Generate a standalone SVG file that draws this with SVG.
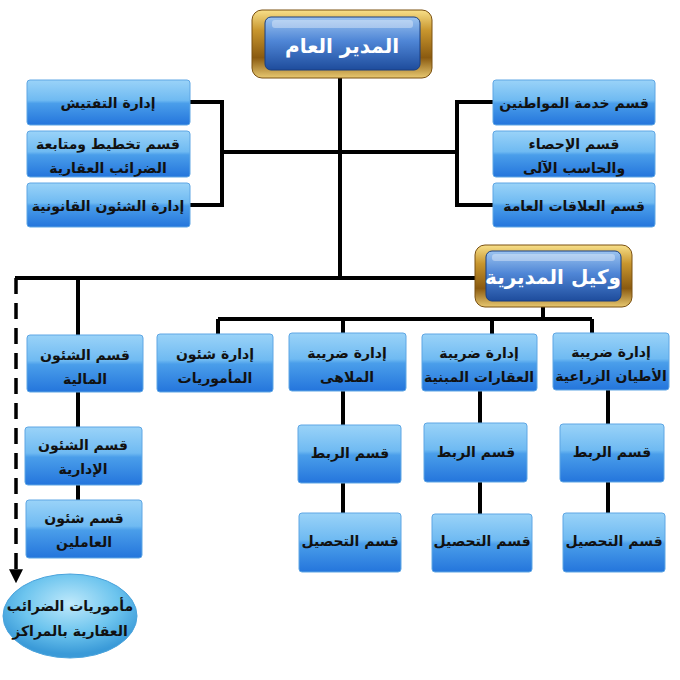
<svg xmlns="http://www.w3.org/2000/svg" width="680" height="680" viewBox="0 0 680 680">
<defs>
<linearGradient id="box" x1="0" y1="0" x2="0" y2="1">
<stop offset="0" stop-color="#9ad3f8"/>
<stop offset="0.45" stop-color="#6fbaf2"/>
<stop offset="0.52" stop-color="#4a9eea"/>
<stop offset="1" stop-color="#2475dc"/>
</linearGradient>
<linearGradient id="gold" x1="0" y1="0" x2="0" y2="1">
<stop offset="0" stop-color="#f8e08a"/>
<stop offset="0.3" stop-color="#c8962e"/>
<stop offset="0.7" stop-color="#8a5a10"/>
<stop offset="1" stop-color="#e8c870"/>
</linearGradient>
<linearGradient id="btn" x1="0" y1="0" x2="0" y2="1">
<stop offset="0" stop-color="#9cc4f0"/>
<stop offset="0.45" stop-color="#4f86d6"/>
<stop offset="1" stop-color="#1e4c9c"/>
</linearGradient>
<radialGradient id="ell" cx="0.5" cy="0.35" r="0.6">
<stop offset="0" stop-color="#bfe9fb"/>
<stop offset="0.6" stop-color="#6cc4ee"/>
<stop offset="1" stop-color="#3a9ad8"/>
</radialGradient>
<marker id="arr" viewBox="0 0 10 10" refX="2" refY="5" markerWidth="4" markerHeight="4" orient="auto" markerUnits="strokeWidth">
<path d="M0,0 L10,5 L0,10 Z" fill="#000"/>
</marker>
<style>
.b{fill:url(#box);stroke:#5ea6e4;stroke-width:1}
.t{font-family:"DejaVu Sans",sans-serif;font-weight:bold;font-size:14px;fill:#111;text-anchor:middle;direction:rtl}
.h{font-family:"DejaVu Sans",sans-serif;font-weight:bold;font-size:20px;fill:#fff;text-anchor:middle;direction:rtl}
.c{fill:none;stroke:#000;stroke-width:4}
.fr{fill:url(#gold);stroke:#7a5010;stroke-width:1}
.bt{fill:url(#btn);stroke:#1a3f80;stroke-width:1}
</style>
</defs>
<g id="connectors">
<path class="c" d="M340,78 V278"/>
<path class="c" d="M190,102 H222 V205 H190 M222,152 H340"/>
<path class="c" d="M493,102 H457 V205 H493 M457,152 H340"/>
<path class="c" d="M15,278 H476"/>
<path class="c" d="M78,278 V335 M78,392 V427 M78,485 V500"/>
<path class="c" d="M543,307 V319 M218,319 H592 M218,319 V334 M343,319 V334 M492,319 V334 M592,319 V333"/>
<path class="c" d="M343,391 V425 M343,483 V513 M480,391 V423 M480,482 V514 M608,390 V424 M608,482 V513"/>
<path d="M16,278 V572" fill="none" stroke="#000" stroke-width="3.5" stroke-dasharray="16,9" marker-end="url(#arr)"/>
</g>
<g id="n-director">
<rect class="fr" x="252" y="10" width="180" height="68" rx="10"/>
<rect class="bt" x="265" y="17" width="155" height="53" rx="6"/>
<rect x="272" y="20" width="141" height="8" rx="3" fill="#fff" opacity="0.35"/>
<text class="h" x="342" y="53" font-size="25">المدير العام</text>
</g>
<g id="n-deputy">
<rect class="fr" x="475" y="245" width="157" height="62" rx="10"/>
<rect class="bt" x="486" y="251" width="135" height="50" rx="6"/>
<rect x="492" y="254" width="123" height="7" rx="3" fill="#fff" opacity="0.35"/>
<text class="h" x="553" y="284" font-size="18">وكيل المديرية</text>
</g>
<g id="n-inspect"><rect class="b" x="27" y="80" width="163" height="45" rx="3"/><text class="t" x="108" y="108">إدارة التفتيش</text></g>
<g id="n-planning"><rect class="b" x="27" y="131" width="163" height="46" rx="3"/><text class="t" x="108" y="149">قسم تخطيط ومتابعة</text><text class="t" x="108" y="173">الضرائب العقارية</text></g>
<g id="n-legal"><rect class="b" x="27" y="183" width="163" height="44" rx="3"/><text class="t" x="108" y="211" font-size="13.5">إدارة الشئون القانونية</text></g>
<g id="n-citizens"><rect class="b" x="493" y="80" width="162" height="45" rx="3"/><text class="t" x="574" y="108">قسم خدمة المواطنين</text></g>
<g id="n-stats"><rect class="b" x="493" y="131" width="162" height="46" rx="3"/><text class="t" x="574" y="149">قسم الإحصاء</text><text class="t" x="574" y="173">والحاسب الآلى</text></g>
<g id="n-pr"><rect class="b" x="493" y="183" width="162" height="44" rx="3"/><text class="t" x="574" y="211">قسم العلاقات العامة</text></g>
<g id="n-finance"><rect class="b" x="27" y="335" width="116" height="57" rx="3"/><text class="t" x="85" y="360">قسم الشئون</text><text class="t" x="85" y="384">المالية</text></g>
<g id="n-offices"><rect class="b" x="157" y="334" width="116" height="58" rx="3"/><text class="t" x="215" y="359">إدارة شئون</text><text class="t" x="215" y="383">المأموريات</text></g>
<g id="n-amuse"><rect class="b" x="289" y="333" width="117" height="58" rx="3"/><text class="t" x="347" y="358">إدارة ضريبة</text><text class="t" x="347" y="382">الملاهى</text></g>
<g id="n-buildings"><rect class="b" x="422" y="334" width="115" height="57" rx="3"/><text class="t" x="479" y="358">إدارة ضريبة</text><text class="t" x="479" y="382" font-size="13">العقارات المبنية</text></g>
<g id="n-land"><rect class="b" x="553" y="333" width="116" height="57" rx="3"/><text class="t" x="611" y="357">إدارة ضريبة</text><text class="t" x="611" y="381" font-size="13">الأطيان الزراعية</text></g>
<g id="n-admin"><rect class="b" x="25" y="427" width="117" height="58" rx="3"/><text class="t" x="83" y="450">قسم الشئون</text><text class="t" x="83" y="474">الإدارية</text></g>
<g id="n-staff"><rect class="b" x="26" y="500" width="116" height="58" rx="3"/><text class="t" x="84" y="523">قسم شئون</text><text class="t" x="84" y="547">العاملين</text></g>
<g id="n-rabt1"><rect class="b" x="298" y="425" width="103" height="58" rx="3"/><text class="t" x="350" y="458" font-size="13">قسم الربط</text></g>
<g id="n-rabt2"><rect class="b" x="424" y="423" width="103" height="59" rx="3"/><text class="t" x="476" y="457" font-size="13">قسم الربط</text></g>
<g id="n-rabt3"><rect class="b" x="560" y="424" width="104" height="58" rx="3"/><text class="t" x="612" y="457" font-size="13">قسم الربط</text></g>
<g id="n-tahsil1"><rect class="b" x="299" y="513" width="102" height="59" rx="3"/><text class="t" x="350" y="546" font-size="13">قسم التحصيل</text></g>
<g id="n-tahsil2"><rect class="b" x="432" y="514" width="100" height="58" rx="3"/><text class="t" x="482" y="546" font-size="13">قسم التحصيل</text></g>
<g id="n-tahsil3"><rect class="b" x="563" y="513" width="102" height="59" rx="3"/><text class="t" x="614" y="546" font-size="13">قسم التحصيل</text></g>
<g id="n-centers">
<ellipse cx="70" cy="616" rx="67" ry="42" fill="url(#ell)" stroke="#4aa3dc" stroke-width="1"/>
<text class="t" x="70" y="611" font-size="12.5">مأموريات الضرائب</text>
<text class="t" x="70" y="636" font-size="12.5">العقارية بالمراكز</text>
</g>
</svg>
